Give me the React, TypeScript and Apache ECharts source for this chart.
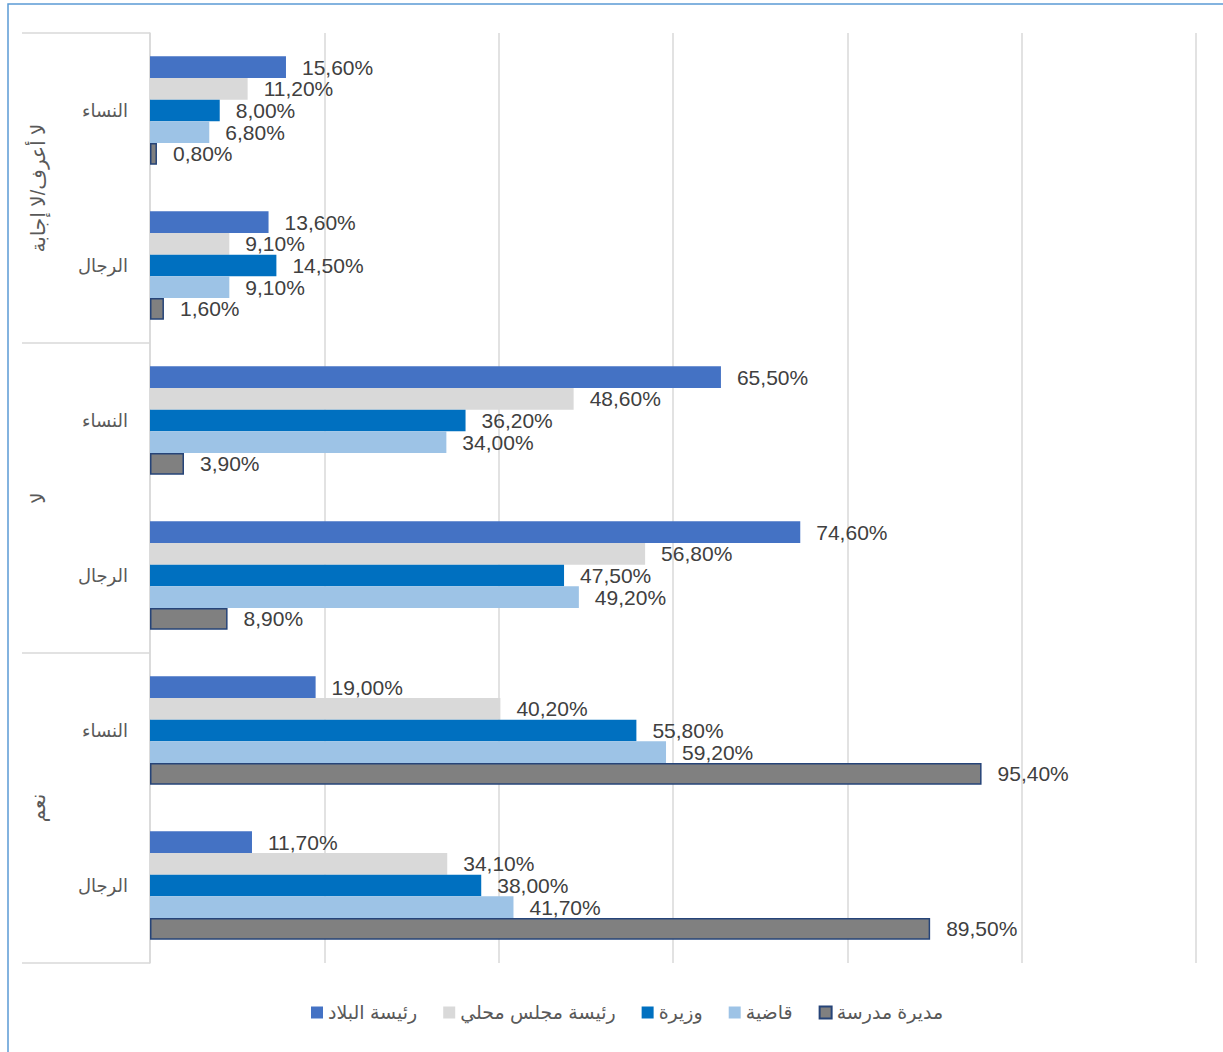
import React, { useEffect, useRef } from "react";
import * as echarts from "echarts";

const answers = ["نعم", "لا", "لا أعرف/لا إجابة"];
const genders = ["الرجال", "النساء"];
const seriesNames = ["رئيسة البلاد", "رئيسة مجلس محلي", "وزيرة", "قاضية", "مديرة مدرسة"];
const seriesColors = ["#4472C4", "#D9D9D9", "#0070C0", "#9DC3E6", "#808080"];

// values per category, bottom-to-top order: نعم/الرجال, نعم/النساء, لا/الرجال, لا/النساء, لا أعرف/الرجال, لا أعرف/النساء
const presidentValues = [11.7, 19.0, 74.6, 65.5, 13.6, 15.6];
const councilValues = [34.1, 40.2, 56.8, 48.6, 9.1, 11.2];
const ministerValues = [38.0, 55.8, 47.5, 36.2, 14.5, 8.0];
const judgeValues = [41.7, 59.2, 49.2, 34.0, 9.1, 6.8];
const principalValues = [89.5, 95.4, 8.9, 3.9, 1.6, 0.8];

const allValues = [presidentValues, councilValues, ministerValues, judgeValues, principalValues];
const xTicks = [0, 20, 40, 60, 80, 100, 120];

const FONT = "'Liberation Sans', Arial, 'DejaVu Sans', sans-serif";

export default function App() {
  const ref = useRef<HTMLDivElement>(null);
  useEffect(() => {
    if (!ref.current) return;
    const chart = echarts.init(ref.current, null, { renderer: "svg" });
    const categories: string[] = [];
    answers.forEach((a, ai) => genders.forEach((g) => categories.push(ai + "|" + g)));

    const gridLeft = 150;
    const gridTop = 33;
    const gridBottomY = 963;
    const groupH = (gridBottomY - gridTop) / answers.length;

    const graphics: any[] = [
      {
        type: "rect",
        shape: { x: 8, y: 4, width: 1400, height: 1200 },
        style: { fill: "none", stroke: "#5B9BD5", lineWidth: 1.5 },
        silent: true,
      },
    ];
    for (let i = 0; i <= answers.length; i++) {
      const y = gridTop + i * groupH;
      graphics.push({
        type: "line",
        shape: { x1: 22, y1: y, x2: gridLeft, y2: y },
        style: { stroke: "#D9D9D9", lineWidth: 1.5 },
        silent: true,
      });
    }
    answers.forEach((a, ai) => {
      const cy = gridBottomY - (ai + 0.5) * groupH;
      graphics.push({
        type: "text",
        x: 38,
        y: cy,
        rotation: Math.PI / 2,
        style: {
          text: a,
          fill: "#595959",
          font: "20px " + FONT,
          textAlign: "center",
          textVerticalAlign: "middle",
        },
        silent: true,
      });
    });

    chart.setOption({
      animation: false,
      backgroundColor: "#ffffff",
      grid: { left: gridLeft, right: 27, top: gridTop, bottom: 1052 - gridBottomY },
      legend: {
        bottom: 25,
        left: 306,
        itemWidth: 12,
        itemHeight: 12,
        itemGap: 26,
        icon: "rect",
        data: seriesNames,
        textStyle: { color: "#595959", fontSize: 19, fontFamily: FONT },
      },
      xAxis: {
        type: "value",
        min: xTicks[0],
        max: xTicks[xTicks.length - 1],
        interval: 20,
        axisLabel: { show: false },
        axisLine: { show: false },
        axisTick: { show: false },
        splitLine: { show: true, lineStyle: { color: "#D9D9D9", width: 1.5 } },
      },
      yAxis: {
        type: "category",
        data: categories,
        axisLine: { show: true, lineStyle: { color: "#D9D9D9", width: 1.5 } },
        axisTick: { show: false },
        axisLabel: {
          color: "#595959",
          fontSize: 18,
          fontFamily: FONT,
          margin: 22,
          formatter: (v: string) => v.split("|")[1],
        },
      },
      graphic: graphics,
      series: seriesNames.map((name, si) => ({
        name,
        type: "bar",
        data: allValues[si],
        barGap: "0%",
        barCategoryGap: "30%",
        itemStyle:
          si === 4
            ? { color: seriesColors[si], borderColor: "#264478", borderWidth: 1.5 }
            : { color: seriesColors[si] },
        label: {
          show: true,
          position: "right",
          distance: 16,
          color: "#404040",
          fontSize: 21,
          fontFamily: FONT,
          formatter: (p: any) => p.value.toFixed(2).replace(".", ",") + "%",
        },
      })),
    });
    return () => chart.dispose();
  }, []);
  return (
    <div
      ref={ref}
      style={{ position: "absolute", left: 0, top: 0, width: 1223, height: 1052 }}
    />
  );
}
